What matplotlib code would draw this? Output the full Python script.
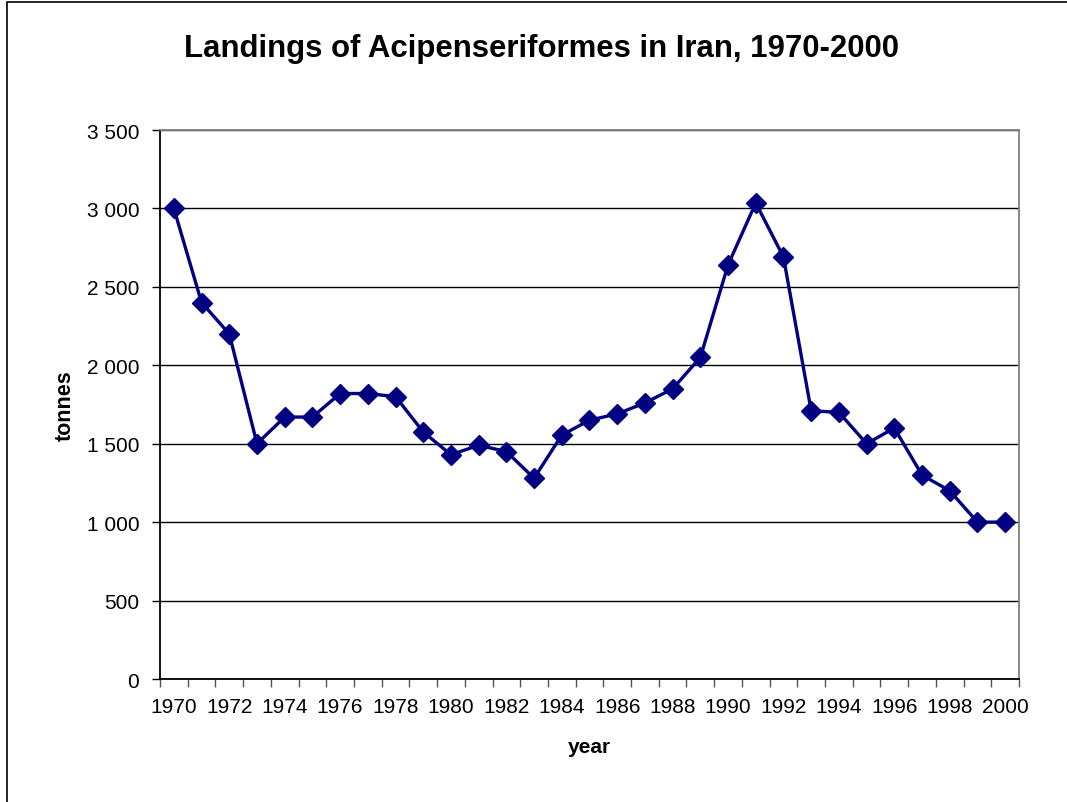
import matplotlib
matplotlib.use("Agg")
import matplotlib.pyplot as plt
from matplotlib.patches import Rectangle
from matplotlib.ticker import FuncFormatter, MultipleLocator, FixedLocator

plt.rcParams['font.family'] = ['Liberation Sans', 'DejaVu Sans']

years = list(range(1970, 2001))
landings = [3000, 2400, 2200, 1500, 1670, 1670, 1820, 1820, 1800, 1575,
            1430, 1490, 1450, 1280, 1555, 1650, 1690, 1760, 1850, 2050,
            2640, 3035, 2690, 1710, 1700, 1500, 1600, 1300, 1200, 1000,
            1000]
year_labels = [str(y) for y in years[::2]]

W, H = 1067, 803
fig = plt.figure(figsize=(W / 100, H / 100), dpi=100)
fig.patch.set_facecolor('white')

# outer chart frame
fig.patches.append(Rectangle((7 / W, -0.1), 1.2, 1 - 3 / H + 0.1,
                             transform=fig.transFigure, fill=False,
                             edgecolor='black', linewidth=1.2))

ax = fig.add_axes([160 / W, 1 - 680 / H, (1019 - 160) / W, (680 - 131) / H])

ax.plot(years, landings, color='#000080', linewidth=2.4, marker='D',
        markersize=10, markerfacecolor='#000080', markeredgecolor='#000080',
        zorder=3, clip_on=False)

ax.set_xlim(years[0] - 0.5, years[-1] + 0.5)
ax.set_ylim(0, 3500)

ax.yaxis.set_major_locator(MultipleLocator(500))
ax.yaxis.set_major_formatter(FuncFormatter(lambda v, p: f"{int(v):,}".replace(',', ' ')))
ax.grid(axis='y', color='black', linewidth=1.0)
ax.set_axisbelow(True)

ax.xaxis.set_major_locator(FixedLocator(years[::2]))
ax.set_xticklabels(year_labels)
ax.xaxis.set_minor_locator(FixedLocator([y - 0.5 for y in years] + [years[-1] + 0.5]))
ax.tick_params(axis='x', which='major', length=0, pad=13, labelsize=15)
ax.tick_params(axis='x', which='minor', length=6, width=1, color='#555555')
ax.tick_params(axis='y', length=6, width=1, pad=9, labelsize=15)

for side in ['left', 'bottom']:
    ax.spines[side].set_color('black')
    ax.spines[side].set_linewidth(1.3)
for side in ['right', 'top']:
    ax.spines[side].set_color('#808080')
    ax.spines[side].set_linewidth(1.3)

ax.set_xlabel('year', fontsize=15, fontweight='bold', labelpad=15)
ax.set_ylabel('tonnes', fontsize=15.5, fontweight='bold', labelpad=8)

fig.text(542 / W, 1 - 49 / H, 'Landings of Acipenseriformes in Iran, 1970-2000',
         ha='center', va='center', fontsize=22.4, fontweight='bold')

fig.savefig('out.png', dpi=100, facecolor='white')
